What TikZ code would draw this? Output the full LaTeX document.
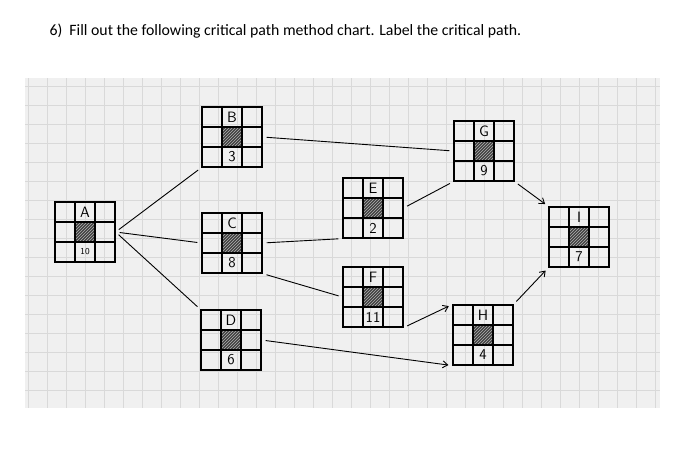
\documentclass[tikz,border=0pt]{standalone}
\usepackage{fontspec}
\setmainfont{Carlito}
\usetikzlibrary{patterns,arrows.meta}
\begin{document}
\begin{tikzpicture}[x=1pt,y=-1pt,
  box/.style={draw,line width=1.2pt,minimum width=60pt,minimum height=60pt,inner sep=0pt},
  conn/.style={line width=0.9pt,shorten >=4pt,shorten <=4pt},
  arr/.style={conn,-{Straight Barb[length=5pt,width=7pt]}},
  hand/.style={font=\sffamily\fontsize{15}{16}\selectfont}]
\useasboundingbox (0,0) rectangle (695,450);
\fill[white] (0,0) rectangle (695,450);
\node[anchor=west,font=\fontsize{15.8}{18}\selectfont] (title) at (46,31) {6)\ \ Fill out the following critical path method chart. Label the critical path.};
\fill[gray!12] (25,78) rectangle (660,408);
\foreach \gx in {28,47,...,660} \draw[gray!30,line width=0.4pt] (\gx,78) -- (\gx,408);
\foreach \gy in {86,105,...,408} \draw[gray!30,line width=0.4pt] (25,\gy) -- (660,\gy);
\newcommand{\cpmnode}[4]{%
  \node[box] (#1) at (#2) {};
  \fill[black!75] ([xshift=-10pt,yshift=10pt]#1.center) rectangle ([xshift=10pt,yshift=-10pt]#1.center);
  \fill[pattern=north east lines,pattern color=gray!60] ([xshift=-10pt,yshift=10pt]#1.center) rectangle ([xshift=10pt,yshift=-10pt]#1.center);
  \draw[line width=1.2pt] ([xshift=-10pt]#1.north) -- ([xshift=-10pt]#1.south) ([xshift=10pt]#1.north) -- ([xshift=10pt]#1.south)
    ([yshift=10pt]#1.west) -- ([yshift=10pt]#1.east) ([yshift=-10pt]#1.west) -- ([yshift=-10pt]#1.east);
  \node[hand] (#1l) at ([yshift=20pt]#1.center) {#3};
  \node[hand] (#1d) at ([yshift=-20pt]#1.center) {#4};
}
\cpmnode{A}{85,232}{A}{\small 10}
\cpmnode{B}{232,137}{B}{3}
\cpmnode{C}{232,243}{C}{8}
\cpmnode{D}{231,340}{D}{6}
\cpmnode{E}{373,208}{E}{2}
\cpmnode{F}{373,297}{F}{11}
\cpmnode{G}{484,151}{G}{9}
\cpmnode{H}{483,335}{H}{4}
\cpmnode{I}{579,237}{I}{7}
\draw[conn] (A.east) -- (B.south west);
\draw[conn] (A.east) -- (C.west);
\draw[conn] (A.east) -- (D.north west);
\draw[conn] (B.east) -- (G.west);
\draw[conn] (C.east) -- (E.south west);
\draw[conn] (C.south east) -- (F.west);
\draw[conn] (E.east) -- (G.south west);
\draw[arr] (F.south east) -- (H.north west);
\draw[arr] (D.east) -- (H.south west);
\draw[arr] (G.south east) -- (I.north west);
\draw[arr] (H.north east) -- (I.south west);
\end{tikzpicture}
\end{document}
